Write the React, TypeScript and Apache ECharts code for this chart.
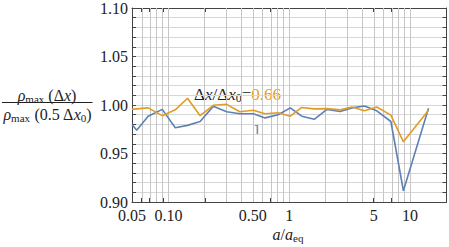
import React, { useEffect, useRef } from "react";
import * as echarts from "echarts";

// a / a_eq sample positions
const XS = [0.05, 0.0547, 0.068, 0.089, 0.114, 0.144, 0.183, 0.235, 0.304, 0.39, 0.505, 0.63, 0.81, 1.02, 1.27, 1.61, 2.05, 2.64, 3.3, 4.19, 5.3, 6.93, 8.8, 14.2];
// Δx/Δx0 = 1 (blue)
const BLUE = [0.98, 0.974, 0.9885, 0.9955, 0.9765, 0.979, 0.983, 0.9986, 0.993, 0.991, 0.991, 0.9867, 0.99, 0.997, 0.9885, 0.9853, 0.9955, 0.9933, 0.997, 0.999, 0.994, 0.983, 0.9116, 0.9966];
// Δx/Δx0 = 0.66 (orange)
const ORANGE = [0.9955, 0.996, 0.997, 0.989, 0.995, 1.007, 0.989, 0.9997, 1.0007, 0.993, 0.9946, 0.991, 0.992, 0.9885, 0.9975, 0.996, 0.9963, 0.995, 0.998, 0.994, 0.998, 0.9896, 0.962, 0.9945];

const X_MIN = 0.05;
const X_MAX = 20;
const Y_MIN = 0.9;
const Y_MAX = 1.1;
const X_LABEL_VALUES = [0.05, 0.1, 0.5, 1, 5, 10];
const X_LABEL_TEXTS = ["0.05", "0.10", "0.50", "1", "5", "10"];
const X_GRID_VALUES = [
  0.05, 0.06, 0.07, 0.08, 0.09, 0.1, 0.2, 0.3, 0.4, 0.5, 0.6, 0.7, 0.8, 0.9,
  1, 2, 3, 4, 5, 6, 7, 8, 9, 10, 20,
];

const BLUE_COLOR = "#5E81B5";
const ORANGE_COLOR = "#E19C24";
const FONT = "Liberation Serif";
const TEXT_COLOR = "#222222";
const FRAME_COLOR = "#444444";

const lg = (v: number) => Math.log10(v);

export default function App() {
  const ref = useRef<HTMLDivElement>(null);

  useEffect(() => {
    if (!ref.current) return;
    const chart = echarts.init(ref.current, undefined, { renderer: "svg" });

    const mkRich = (size: number, sub: number) => ({
      n: { fontFamily: FONT, fontSize: size, fill: TEXT_COLOR, lineHeight: size + 2, verticalAlign: "middle" },
      i: { fontFamily: FONT, fontSize: size, fontStyle: "italic", fill: TEXT_COLOR, lineHeight: size + 2, verticalAlign: "middle" },
      s: { fontFamily: FONT, fontSize: sub, fill: TEXT_COLOR, lineHeight: sub, verticalAlign: "bottom" },
      o: { fontFamily: FONT, fontSize: size, fill: ORANGE_COLOR, lineHeight: size + 2, verticalAlign: "middle" },
      b: { fontFamily: FONT, fontSize: size, fill: BLUE_COLOR, lineHeight: size + 2, verticalAlign: "middle" },
    });
    const rich16 = mkRich(16, 11);
    const rich17 = mkRich(17, 12);

    const xTickVals = X_GRID_VALUES.map(lg);
    const frameLine = { show: true, lineStyle: { color: FRAME_COLOR, width: 1 } };

    const option: any = {
      animation: false,
      grid: { left: 132, right: 2.5, top: 6.7, bottom: 45, containLabel: false },
      xAxis: [
        {
          type: "value",
          position: "bottom",
          min: lg(X_MIN),
          max: lg(X_MAX),
          axisLine: { ...frameLine, onZero: false },
          axisTick: { show: true, inside: true, length: 4, customValues: xTickVals, lineStyle: { color: FRAME_COLOR } },
          axisLabel: {
            show: true,
            customValues: X_LABEL_VALUES.map(lg),
            fontFamily: FONT,
            fontSize: 16,
            color: TEXT_COLOR,
            margin: 5,
            formatter: (v: number) => {
              let best = 0;
              let bd = Infinity;
              X_LABEL_VALUES.forEach((lv, k) => {
                const d = Math.abs(lg(lv) - v);
                if (d < bd) { bd = d; best = k; }
              });
              return X_LABEL_TEXTS[best];
            },
          },
          splitLine: { show: false },
        },
        {
          type: "value",
          position: "top",
          min: lg(X_MIN),
          max: lg(X_MAX),
          axisLine: { ...frameLine, onZero: false },
          axisTick: { show: true, inside: true, length: 4, customValues: xTickVals, lineStyle: { color: FRAME_COLOR } },
          axisLabel: { show: false },
          splitLine: { show: false },
        },
      ],
      yAxis: [
        {
          type: "value",
          position: "left",
          min: Y_MIN,
          max: Y_MAX,
          interval: 0.05,
          axisLine: { ...frameLine, onZero: false },
          axisTick: { show: true, inside: true, length: 4, lineStyle: { color: FRAME_COLOR } },
          minorTick: { show: true, splitNumber: 5, length: 4, lineStyle: { color: FRAME_COLOR } },
          axisLabel: {
            fontFamily: FONT,
            fontSize: 16,
            color: TEXT_COLOR,
            margin: 4,
            formatter: (v: number) => v.toFixed(2),
          },
          splitLine: { show: true, lineStyle: { color: "#d6d6d6", width: 1 } },
          minorSplitLine: { show: true, lineStyle: { color: "#d6d6d6", width: 1 } },
        },
        {
          type: "value",
          position: "right",
          min: Y_MIN,
          max: Y_MAX,
          interval: 0.05,
          axisLine: { ...frameLine, onZero: false },
          axisTick: { show: true, inside: true, length: 4, lineStyle: { color: FRAME_COLOR } },
          minorTick: { show: true, splitNumber: 5, length: 4, lineStyle: { color: FRAME_COLOR } },
          axisLabel: { show: false },
          splitLine: { show: false },
        },
      ],
      series: [
        {
          type: "line",
          name: "grid",
          data: [],
          silent: true,
          markLine: {
            silent: true,
            z: 1,
            symbol: "none",
            animation: false,
            label: { show: false },
            lineStyle: { color: "#c6c6c6", type: "solid", width: 1 },
            data: X_GRID_VALUES.slice(1, -1).map((v) => ({ xAxis: lg(v) })),
          },
        },
        {
          type: "line",
          name: "Δx/Δx0 = 1",
          z: 3,
          showSymbol: false,
          symbol: "none",
          lineStyle: { color: BLUE_COLOR, width: 1.6 },
          itemStyle: { color: BLUE_COLOR },
          data: XS.map((x, k) => [lg(x), BLUE[k]]),
        },
        {
          type: "line",
          name: "Δx/Δx0 = 0.66",
          z: 4,
          showSymbol: false,
          symbol: "none",
          lineStyle: { color: ORANGE_COLOR, width: 1.6 },
          itemStyle: { color: ORANGE_COLOR },
          data: XS.map((x, k) => [lg(x), ORANGE[k]]),
        },
      ],
      graphic: [
        {
          type: "text",
          x: 47,
          y: 95,
          style: {
            text: "{i|ρ}{s|max}{n| (Δ}{i|x}{n|)}",
            rich: rich16,
            align: "center",
            verticalAlign: "middle",
          },
        },
        {
          type: "line",
          shape: { x1: 2, y1: 102.5, x2: 92.5, y2: 102.5 },
          style: { stroke: TEXT_COLOR, lineWidth: 1 },
        },
        {
          type: "text",
          x: 47.5,
          y: 114,
          style: {
            text: "{i|ρ}{s|max}{n| (0.5 Δ}{i|x}{s|0}{n|)}",
            rich: rich16,
            align: "center",
            verticalAlign: "middle",
          },
        },
        {
          type: "text",
          x: 194,
          y: 94.5,
          style: {
            text: "{n|Δ}{i|x}{n|/Δ}{i|x}{s|0}{n|=}{o|0.66}",
            rich: rich17,
            align: "left",
            verticalAlign: "middle",
          },
        },
        {
          type: "text",
          x: 257,
          y: 129,
          style: {
            text: "{b|1}",
            rich: rich16,
            align: "center",
            verticalAlign: "middle",
          },
        },
        {
          type: "text",
          x: 288,
          y: 234,
          style: {
            text: "{i|a}{n|/}{i|a}{s|eq}",
            rich: rich16,
            align: "center",
            verticalAlign: "middle",
          },
        },
      ],
    };

    chart.setOption(option);
    return () => chart.dispose();
  }, []);

  return (
    <div
      ref={ref}
      style={{ position: "fixed", left: 0, top: 0, width: 449, height: 247, background: "#ffffff" }}
    />
  );
}
